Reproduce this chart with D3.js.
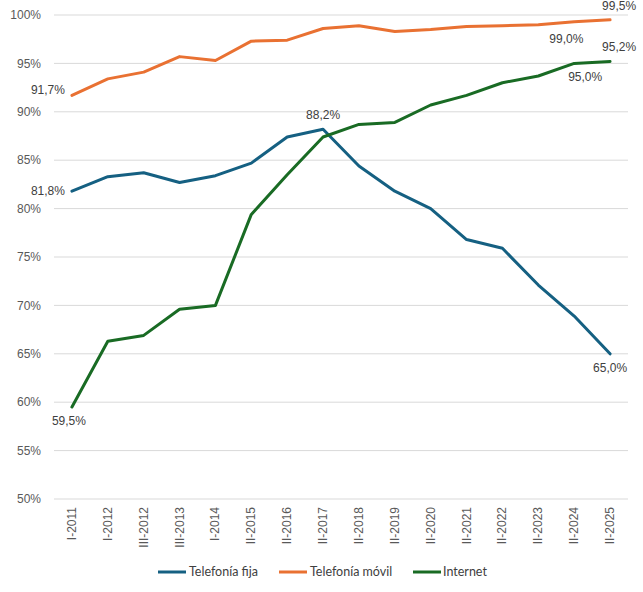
<!DOCTYPE html>
<html><head><meta charset="utf-8">
<script src="https://cdn.jsdelivr.net/npm/d3@7"></script>
<style>body{margin:0;background:#fff}svg{display:block}</style>
</head><body><svg id="c" width="643" height="592"></svg>
<script>
const categories = ["I-2011","I-2012","III-2012","III-2013","I-2014","II-2015","II-2016","II-2017","II-2018","II-2019","II-2020","II-2021","II-2022","II-2023","II-2024","II-2025"];
const fija  = [81.8,83.3,83.7,82.7,83.4,84.7,87.4,88.2,84.4,81.8,80.0,76.8,75.9,72.1,68.9,65.0];
const movil = [91.7,93.4,94.1,95.7,95.3,97.3,97.4,98.6,98.9,98.3,98.5,98.8,98.9,99.0,99.3,99.5];
const internet = [59.5,66.3,66.9,69.6,70.0,79.4,83.5,87.4,88.7,88.9,90.7,91.7,93.0,93.7,95.0,95.2];
const yTicks = [50,55,60,65,70,75,80,85,90,95,100];
const seriesNames = ["Telefonía fija","Telefonía móvil","Internet"];
const colors = ["#156082","#E97132","#196B24"];
// labels: [series, index, position]
const labels = [[0,0,"left"],[0,7,"above"],[0,15,"below"],[1,0,"left"],[1,13,"below"],[1,15,"above"],[2,0,"below"],[2,14,"below"],[2,15,"above"]];
const labelShift = [0,0,0,0,28,9,-3,11,9];

const FONT = "'Liberation Sans', Arial, sans-serif";
const svg = d3.select("#c");
const x = d3.scaleBand().domain(categories).range([54,628]);
const y = d3.scaleLinear().domain([50,100]).range([499,15]);
const cx = d => x(d) + x.bandwidth()/2;

svg.append("g").selectAll("line").data(yTicks).join("line")
  .attr("x1",54).attr("x2",628).attr("y1",d=>y(d)).attr("y2",d=>y(d))
  .attr("stroke","#d9d9d9").attr("stroke-width",1);

svg.append("g").selectAll("text").data(yTicks).join("text")
  .attr("x",41).attr("y",d=>y(d)).attr("dy","0.35em").attr("text-anchor","end")
  .style("font-family",FONT).attr("font-size",12).attr("fill","#595959")
  .text(d=>d+"%");

svg.append("g").selectAll("text").data(categories).join("text")
  .attr("transform",d=>`translate(${cx(d)+4},507) rotate(-90)`)
  .attr("text-anchor","end")
  .style("font-family",FONT).attr("font-size",12).attr("fill","#595959")
  .text(d=>d);

const all = [fija,movil,internet];
const line = d3.line().x((d,i)=>cx(categories[i])).y(d=>y(d));
all.forEach((s,k)=>{
  svg.append("path").attr("d",line(s)).attr("fill","none").attr("stroke",colors[k])
    .attr("stroke-width",3).attr("stroke-linejoin","round").attr("stroke-linecap","round");
});

const fmt = v => v.toFixed(1).replace(".",",")+"%";
svg.append("g").selectAll("text").data(labels).join("text")
  .attr("x",(d,i)=>{const px=cx(categories[d[1]]); if(d[2]==="left") return px-7; return px+labelShift[i];})
  .attr("y",d=>{const py=y(all[d[0]][d[1]]); return d[2]==="above"? py-10 : d[2]==="below"? py+18 : py+(d[0]===1?-1:4);})
  .attr("text-anchor",d=>d[2]==="left"?"end":"middle")
  .style("font-family",FONT).attr("font-size",12).attr("fill","#404040")
  .text(d=>fmt(all[d[0]][d[1]]));

const leg = [[158,189],[279,310],[413,443]];
seriesNames.forEach((n,k)=>{
  svg.append("line").attr("x1",leg[k][0]).attr("x2",leg[k][0]+28).attr("y1",572).attr("y2",572)
    .attr("stroke",colors[k]).attr("stroke-width",3);
  svg.append("text").attr("x",leg[k][1]).attr("y",572).attr("dy","0.35em")
    .style("font-family","Lato, 'Liberation Sans', sans-serif").attr("font-size",12.5).attr("fill","#404040").text(n);
});
</script></body></html>
